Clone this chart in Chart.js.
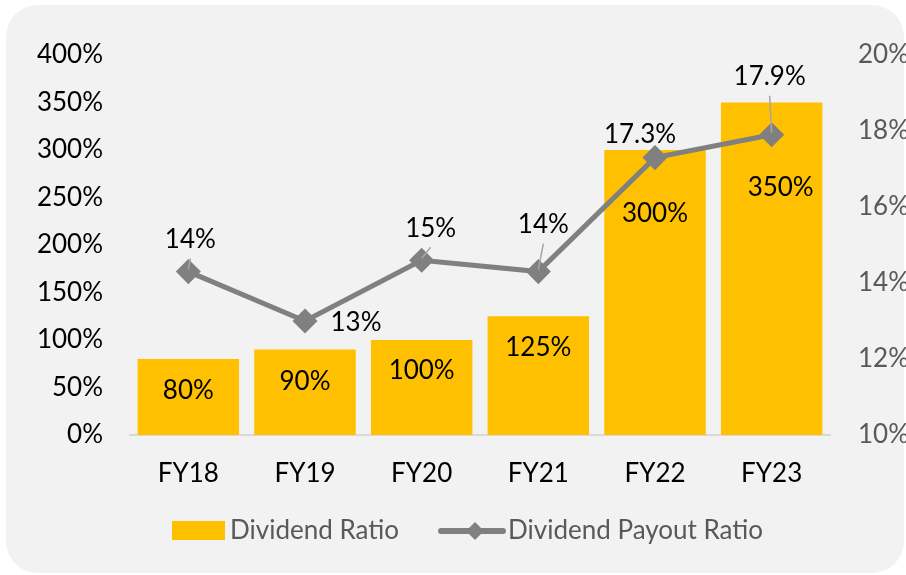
<!DOCTYPE html>
<html>
<head>
<meta charset="utf-8">
<script src="https://cdn.jsdelivr.net/npm/chart.js@4"></script>
<style>
  html, body { margin: 0; padding: 0; background: #ffffff; }
  canvas { display: block; }
</style>
</head>
<body>
<canvas id="divChart" width="906" height="575"></canvas>
<script>
// --- data ---
const categories = ['FY18', 'FY19', 'FY20', 'FY21', 'FY22', 'FY23'];
const dividendRatio = [80, 90, 100, 125, 300, 350];          // % (left axis)
const payoutRatio = [14.3, 13.0, 14.6, 14.3, 17.3, 17.9];     // % (right axis)
const payoutLabels = ['14%', '13%', '15%', '14%', '17.3%', '17.9%'];
const leftAxis = { min: 0, max: 400, step: 50 };
const rightAxis = { min: 10, max: 20, step: 2 };
const seriesNames = ['Dividend Ratio', 'Dividend Payout Ratio'];

const FONT = 'Lato, "Open Sans", sans-serif';
const FSIZE = 26;
const BAR_COLOR = '#FFC000';
const LINE_COLOR = '#808080';

// background card
const cardBg = {
    id: 'cardBg',
    beforeDraw(chart) {
        const ctx = chart.ctx;
        ctx.save();
        ctx.fillStyle = '#ffffff';
        ctx.fillRect(0, 0, chart.width, chart.height);
        ctx.fillStyle = '#f2f2f2';
        ctx.beginPath();
        ctx.roundRect(6, 5, 898, 568, 32);
        ctx.fill();
        ctx.restore();
    }
};

// value labels, placed by hand like the original
const valueLabels = {
    id: 'valueLabels',
    afterDatasetsDraw(chart, args, opts) {
        const ctx = chart.ctx;
        ctx.save();
        ctx.font = FSIZE + 'px ' + FONT;
        ctx.fillStyle = '#000';
        ctx.textAlign = 'center';
        ctx.textBaseline = 'middle';

        const bars = chart.getDatasetMeta(0).data;
        bars.forEach((b, i) => {
            const o = opts.bar[i];
            ctx.fillText(dividendRatio[i] + '%', b.x + o.dx, b.y + o.dy);
        });

        const pts = chart.getDatasetMeta(1).data;
        pts.forEach((p, i) => {
            const o = opts.line[i];
            const lx = p.x + o.dx, ly = p.y + o.dy;
            if (o.leader) {
                ctx.strokeStyle = '#a6a6a6';
                ctx.lineWidth = 1.5;
                ctx.beginPath();
                ctx.moveTo(lx, ly + 19);
                ctx.lineTo(p.x, p.y - 2);
                ctx.stroke();
            }
            ctx.fillText(payoutLabels[i], lx, ly);
        });
        ctx.restore();
    }
};

// legend drawn under the axis
const bottomLegend = {
    id: 'bottomLegend',
    afterDraw(chart) {
        const ctx = chart.ctx;
        const cy = 531;
        ctx.save();
        ctx.font = FSIZE + 'px ' + FONT;
        ctx.textBaseline = 'middle';
        ctx.textAlign = 'left';
        let x = 172;
        ctx.fillStyle = BAR_COLOR;
        ctx.fillRect(x, cy - 10, 53, 19);
        x += 58;
        ctx.fillStyle = '#595959';
        ctx.fillText(seriesNames[0], x, cy);
        x += ctx.measureText(seriesNames[0]).width + 42;

        ctx.strokeStyle = LINE_COLOR;
        ctx.lineWidth = 6;
        ctx.lineCap = 'round';
        ctx.beginPath();
        ctx.moveTo(x, cy);
        ctx.lineTo(x + 62, cy);
        ctx.stroke();
        ctx.fillStyle = LINE_COLOR;
        const dx = x + 34;
        ctx.beginPath();
        ctx.moveTo(dx, cy - 9);
        ctx.lineTo(dx + 9, cy);
        ctx.lineTo(dx, cy + 9);
        ctx.lineTo(dx - 9, cy);
        ctx.closePath();
        ctx.fill();
        x += 67;
        ctx.fillStyle = '#595959';
        ctx.fillText(seriesNames[1], x, cy);
        ctx.restore();
    }
};

new Chart(document.getElementById('divChart'), {
    data: {
        labels: categories,
        datasets: [
            {
                type: 'bar',
                label: seriesNames[0],
                data: dividendRatio,
                backgroundColor: BAR_COLOR,
                yAxisID: 'y',
                categoryPercentage: 1,
                barPercentage: 0.87,
                order: 1
            },
            {
                type: 'line',
                label: seriesNames[1],
                data: payoutRatio,
                borderColor: LINE_COLOR,
                backgroundColor: LINE_COLOR,
                borderWidth: 5,
                pointStyle: 'rectRot',
                pointRadius: 9,
                pointHoverRadius: 9,
                tension: 0,
                yAxisID: 'y1',
                order: 0
            }
        ]
    },
    options: {
        responsive: false,
        animation: false,
        devicePixelRatio: 1,
        layout: { padding: { top: 55, left: 0, right: 0, bottom: 0 } },
        plugins: {
            legend: { display: false },
            tooltip: { enabled: false },
            valueLabels: {
                bar: [
                    { dx: 0, dy: 32 }, { dx: 0, dy: 32 }, { dx: 0, dy: 31 },
                    { dx: 0, dy: 31 }, { dx: 0, dy: 64 }, { dx: 9, dy: 85 }
                ],
                line: [
                    { dx: 2, dy: -32, leader: true },
                    { dx: 51, dy: 2 },
                    { dx: 9, dy: -32, leader: true },
                    { dx: 5, dy: -47, leader: true },
                    { dx: -15, dy: -23 },
                    { dx: -2, dy: -58, leader: true }
                ]
            }
        },
        scales: {
            x: {
                grid: { display: false },
                border: { display: true, color: '#d9d9d9', width: 2 },
                ticks: { color: '#000', font: { family: FONT, size: FSIZE }, padding: 15 },
                afterFit(s) { s.height = 140; }
            },
            y: {
                position: 'left',
                min: leftAxis.min, max: leftAxis.max,
                grid: { display: false },
                border: { display: false },
                ticks: {
                    stepSize: leftAxis.step,
                    color: '#000',
                    font: { family: FONT, size: FSIZE },
                    padding: 19,
                    callback: v => v + '%'
                },
                afterFit(s) { s.width = 130; }
            },
            y1: {
                position: 'right',
                min: rightAxis.min, max: rightAxis.max,
                grid: { display: false },
                border: { display: false },
                ticks: {
                    stepSize: rightAxis.step,
                    color: '#595959',
                    font: { family: FONT, size: FSIZE },
                    padding: 20,
                    callback: v => v + '%'
                },
                afterFit(s) { s.width = 76; }
            }
        }
    },
    plugins: [cardBg, valueLabels, bottomLegend]
});
</script>
</body>
</html>
